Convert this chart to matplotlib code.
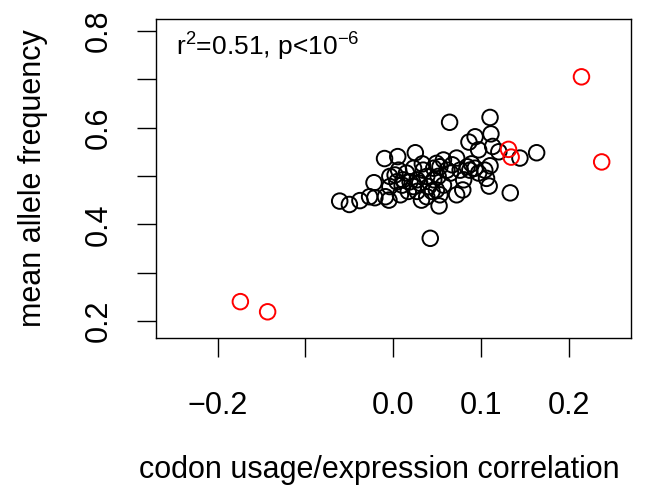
import matplotlib
matplotlib.use("Agg")
import matplotlib.pyplot as plt

plt.rcParams['font.family'] = ['Liberation Sans', 'DejaVu Sans']
plt.rcParams['mathtext.default'] = 'regular'

# codon usage/expression correlation vs mean allele frequency
black_x = [-0.061, -0.050, -0.038, -0.027, -0.021, -0.009, -0.005, -0.022, -0.010, 0.005,
           0.025, 0.033, 0.064, 0.110, 0.111, 0.093, 0.086, 0.097, 0.113, 0.120,
           0.144, 0.163, 0.110, 0.106, 0.109, 0.133, 0.042, 0.052, 0.072, 0.057,
           0.089, 0.093, 0.079, 0.072, 0.038, 0.008, 0.002, 0.011, 0.023, 0.030,
           0.046, 0.053, 0.061, 0.049, 0.027, 0.038, 0.006, 0.015, -0.004, 0.044,
           0.065, 0.080, 0.084, 0.097, 0.067, 0.049, 0.057, 0.034, 0.019, 0.010,
           -0.004, 0.032, 0.053, 0.076, 0.087, 0.104, 0.027, 0.040, 0.051, 0.017,
           0.004, 0.023, 0.046]
black_y = [0.448, 0.441, 0.449, 0.457, 0.455, 0.457, 0.450, 0.486, 0.536, 0.540,
           0.548, 0.525, 0.611, 0.621, 0.587, 0.581, 0.570, 0.554, 0.561, 0.550,
           0.537, 0.548, 0.521, 0.495, 0.479, 0.465, 0.371, 0.438, 0.537, 0.533,
           0.525, 0.516, 0.471, 0.461, 0.457, 0.461, 0.502, 0.492, 0.478, 0.485,
           0.492, 0.519, 0.512, 0.471, 0.468, 0.499, 0.512, 0.506, 0.478, 0.468,
           0.506, 0.492, 0.519, 0.506, 0.523, 0.526, 0.481, 0.512, 0.488, 0.481,
           0.499, 0.450, 0.461, 0.512, 0.512, 0.512, 0.492, 0.478, 0.499, 0.468,
           0.488, 0.516, 0.516]

red_x = [0.214, 0.237, 0.131, 0.134, -0.174, -0.143]
red_y = [0.705, 0.529, 0.555, 0.539, 0.240, 0.219]

x_ticks = [-0.2, -0.1, 0.0, 0.1, 0.2]
x_labels = ['\u22120.2', '', '0.0', '0.1', '0.2']
y_ticks = [0.2, 0.3, 0.4, 0.5, 0.6, 0.7, 0.8]
y_labels = ['0.2', '', '0.4', '', '0.6', '', '0.8']

fig = plt.figure(figsize=(6.48, 4.9), dpi=100)
ax = fig.add_axes([0.2407, 0.3108, 0.7326, 0.6498])

ax.scatter(black_x, black_y, s=125, facecolors='none', edgecolors='black', linewidths=1.4)
ax.scatter(red_x, red_y, s=125, facecolors='none', edgecolors='#FF0000', linewidths=1.4)

ax.set_xlim(-0.270, 0.270)
ax.set_ylim(0.1654, 0.824)

ax.set_xticks(x_ticks)
ax.set_xticklabels(x_labels)
ax.set_yticks(y_ticks)
ax.set_yticklabels(y_labels, rotation=90, va='center')
ax.tick_params(axis='both', length=13.5, width=1, labelsize=22, color='black')
ax.tick_params(axis='x', pad=25)
ax.tick_params(axis='y', pad=17)
for sp in ax.spines.values():
    sp.set_linewidth(1)

ax.set_xlabel('codon usage/expression correlation', fontsize=22)
ax.xaxis.set_label_coords(0.47, -0.4155)
ax.set_ylabel('mean allele frequency', fontsize=22)
ax.yaxis.set_label_coords(-0.26, 0.5)
ax.xaxis.label.set_va('center')
ax.yaxis.label.set_va('center')

ax.text(0.042, 0.885, r'r$^2$=0.51, p<10$^{-6}$', transform=ax.transAxes,
        fontsize=19, va='baseline', ha='left')

fig.savefig('out.png', dpi=100)
